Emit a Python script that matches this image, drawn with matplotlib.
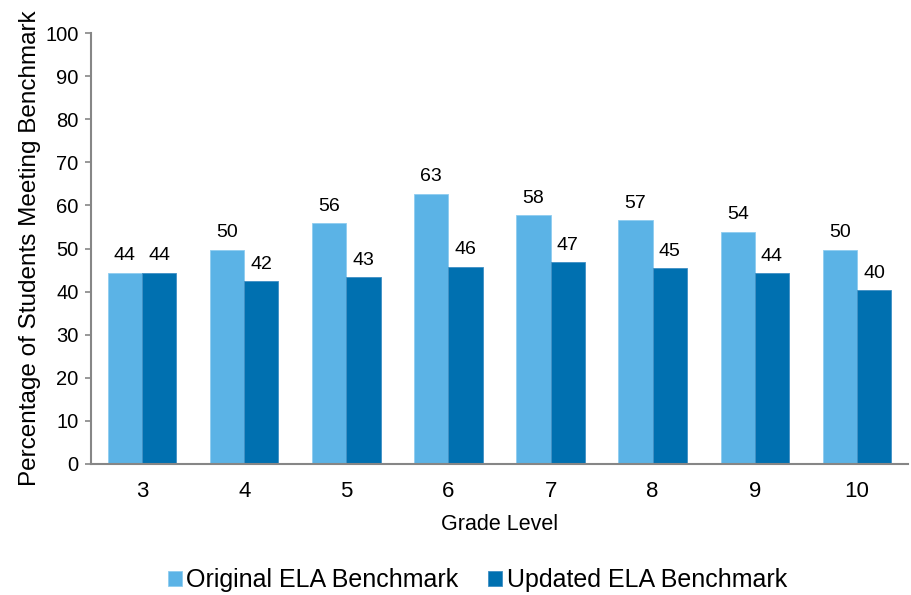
import matplotlib.pyplot as plt
import numpy as np

plt.rcParams['font.family'] = ['Liberation Sans', 'DejaVu Sans']

grades = ["3", "4", "5", "6", "7", "8", "9", "10"]
original = [44.4, 49.7, 55.9, 62.7, 57.8, 56.6, 53.9, 49.7]
updated = [44.4, 42.4, 43.4, 45.8, 46.9, 45.4, 44.2, 40.3]
series_names = ["Original ELA Benchmark", "Updated ELA Benchmark"]

LIGHT = "#5BB3E6"
DARK = "#0070B0"
AXIS_GRAY = "#868686"

fig = plt.figure(figsize=(9.11, 5.95), dpi=100)
ax = fig.add_axes([0.0999, 0.2202, 0.8968, 0.7243])

x = np.arange(len(grades))
w = 0.335
bars1 = ax.bar(x - w / 2, original, w, color=LIGHT, edgecolor="#8fcdf0", linewidth=0.6,
               label=series_names[0])
bars2 = ax.bar(x + w / 2, updated, w, color=DARK, edgecolor="#3f8fc4", linewidth=0.6,
               label=series_names[1])

# value labels above each bar
for bars in (bars1, bars2):
    for b in bars:
        h = b.get_height()
        ax.annotate(f"{h:.0f}", (b.get_x() + b.get_width() / 2, h),
                    xytext=(0, 6), textcoords="offset points",
                    ha="center", va="bottom", fontsize=14)

ax.set_xlim(-0.5, len(grades) - 0.5)
ax.set_ylim(0, 100)
ax.set_yticks(range(0, 101, 10))
ax.set_xticks(x)
ax.set_xticklabels(grades, fontsize=16)
ax.tick_params(axis="x", length=0, pad=12)
ax.tick_params(axis="y", labelsize=14.5, length=4, width=1.2, color=AXIS_GRAY, pad=5)

for side in ("top", "right"):
    ax.spines[side].set_visible(False)
for side in ("left", "bottom"):
    ax.spines[side].set_color(AXIS_GRAY)
    ax.spines[side].set_linewidth(1.5)

ax.set_xlabel("Grade Level", fontsize=15.5, labelpad=9)
ax.set_ylabel("Percentage of Students Meeting Benchmark", fontsize=17.5, labelpad=3)

ax.legend(loc="center", bbox_to_anchor=(0.473, -0.269), ncol=2, frameon=False,
          fontsize=18, handlelength=0.55, handleheight=0.55, handletextpad=0.18,
          columnspacing=1.2, borderaxespad=0)

fig.savefig("out.png", dpi=100)
